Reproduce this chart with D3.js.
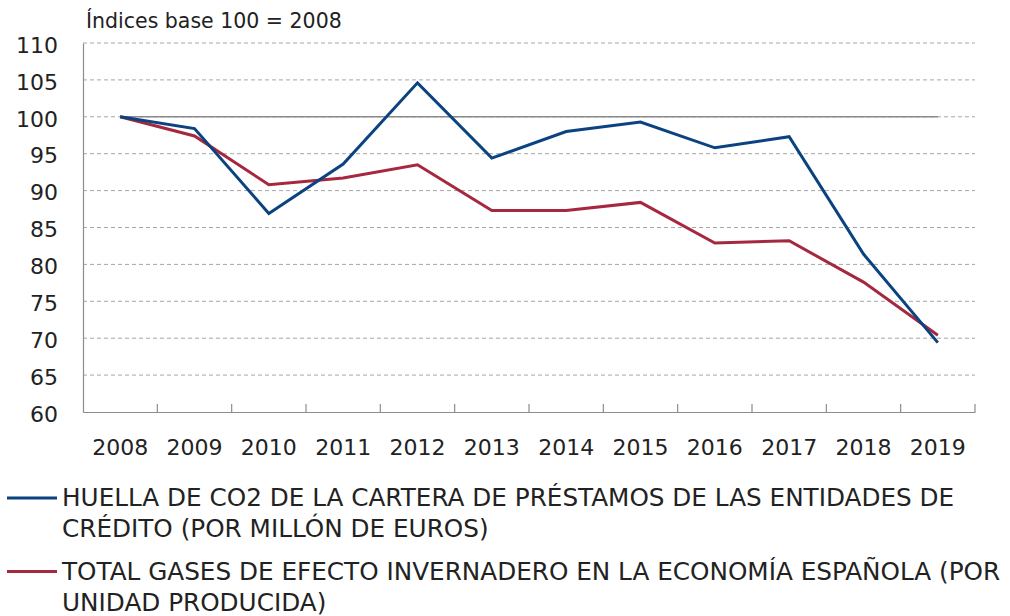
<!DOCTYPE html>
<html>
<head>
<meta charset="utf-8">
<script src="https://cdn.jsdelivr.net/npm/d3@7"></script>
<style>
  body { margin: 0; background: #fff; }
  svg text { font-family: "DejaVu Sans", sans-serif; fill: #222; }
</style>
</head>
<body>
<svg id="chart" width="1010" height="616"></svg>
<script>
const years = ["2008","2009","2010","2011","2012","2013","2014","2015","2016","2017","2018","2019"];
const huella = [100, 98.4, 86.9, 93.6, 104.6, 94.4, 98.0, 99.3, 95.8, 97.3, 81.4, 69.4];
const gases = [100, 97.4, 90.8, 91.7, 93.5, 87.3, 87.3, 88.4, 82.9, 83.2, 77.6, 70.4];
const base = years.map(() => 100);
const yTicks = [60, 65, 70, 75, 80, 85, 90, 95, 100, 105, 110];
const titleText = "Índices base 100 = 2008";
const legendItems = [
  { color: "#0b4381", lines: ["HUELLA DE CO2 DE LA CARTERA DE PRÉSTAMOS DE LAS ENTIDADES DE", "CRÉDITO (POR MILLÓN DE EUROS)"] },
  { color: "#a6283e", lines: ["TOTAL GASES DE EFECTO INVERNADERO EN LA ECONOMÍA ESPAÑOLA (POR", "UNIDAD PRODUCIDA)"] }
];

const margin = { top: 43, left: 83, right: 35, bottom: 204 };
const W = 1010, H = 616;
const w = W - margin.left - margin.right, h = H - margin.top - margin.bottom;
const font = "DejaVu Sans, sans-serif";

const svg = d3.select("#chart");
const g = svg.append("g").attr("transform", `translate(${margin.left},${margin.top})`);

const xscale = d3.scaleBand().domain(years).range([0, w]).padding(0);
const yscale = d3.scaleLinear().domain([60, 110]).range([h, 0]);
const cx = d => xscale(d) + xscale.bandwidth() / 2;

// dashed grid
g.selectAll(".grid").data(yTicks.filter(t => t > 60)).join("line")
  .attr("class", "grid")
  .attr("x1", 0).attr("x2", w)
  .attr("y1", d => yscale(d)).attr("y2", d => yscale(d))
  .attr("stroke", "#a6a6a6").attr("stroke-width", 1)
  .attr("stroke-dasharray", "4,3");

// y axis
const yAxis = g.append("g").call(d3.axisLeft(yscale).tickValues(yTicks).tickSize(0).tickPadding(25));
yAxis.select(".domain").attr("stroke", "#8c8c8c").attr("stroke-width", 1.2);
yAxis.selectAll("text").style("font-size", "22px").style("font-family", font)
  .attr("fill", "#222").attr("dy", "0.42em");

// x axis
const xAxis = g.append("g").attr("transform", `translate(0,${h})`)
  .call(d3.axisBottom(xscale).tickSize(0).tickPadding(27));
xAxis.select(".domain").attr("stroke", "#8c8c8c").attr("stroke-width", 1.2);
xAxis.selectAll("text").style("font-size", "22px").style("font-family", font).attr("fill", "#222");

// x tick marks at band boundaries, pointing up
g.selectAll(".xtick").data(years).join("line")
  .attr("class", "xtick")
  .attr("x1", d => xscale(d) + xscale.bandwidth()).attr("x2", d => xscale(d) + xscale.bandwidth())
  .attr("y1", h).attr("y2", h - 8)
  .attr("stroke", "#8c8c8c").attr("stroke-width", 1.2);

const line = d3.line().x((d, i) => cx(years[i])).y(d => yscale(d));

// base 100 line
g.append("path").datum(base).attr("d", line)
  .attr("fill", "none").attr("stroke", "#8a8a8a").attr("stroke-width", 1.5);

g.append("path").datum(gases).attr("d", line)
  .attr("fill", "none").attr("stroke", legendItems[1].color).attr("stroke-width", 3);
g.append("path").datum(huella).attr("d", line)
  .attr("fill", "none").attr("stroke", legendItems[0].color).attr("stroke-width", 3);

// title
svg.append("text").attr("x", 86).attr("y", 28)
  .style("font-size", "20.5px").text(titleText);

// legend
const leg = svg.selectAll(".legend").data(legendItems).join("g")
  .attr("class", "legend")
  .attr("transform", (d, i) => `translate(0,${498 + i * 73.5})`);
leg.append("line").attr("x1", 7).attr("x2", 57).attr("y1", 0).attr("y2", 0)
  .attr("stroke", d => d.color).attr("stroke-width", 3);
leg.each(function(d) {
  const t = d3.select(this).append("text").attr("x", 62).attr("y", 8).style("font-size", "24.7px");
  d.lines.forEach((l, j) => t.append("tspan").attr("x", 62).attr("dy", j === 0 ? 0 : 31).text(l));
});
</script>
</body>
</html>
